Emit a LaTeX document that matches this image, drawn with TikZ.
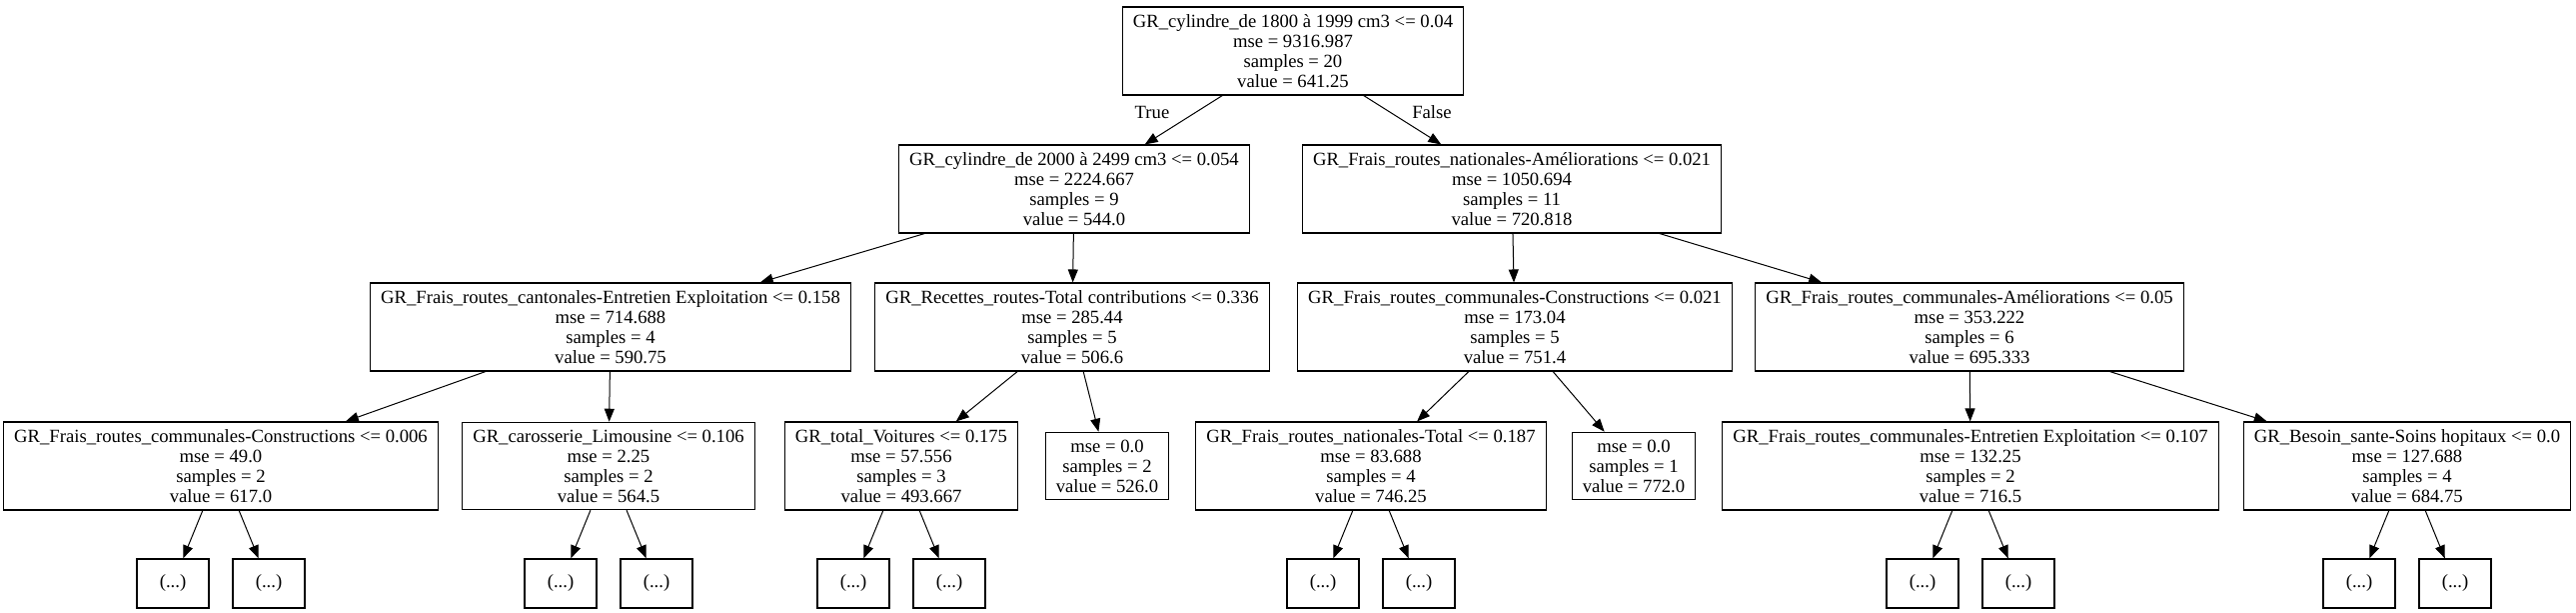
\documentclass[tikz,border=0pt]{standalone}
\usepackage{fontspec}
\setmainfont{Liberation Serif}
\usetikzlibrary{arrows.meta}

\tikzset{
  splitnode/.style={draw, rectangle, align=center, inner xsep=7.9pt, inner ysep=5.5pt, line width=0.9pt},
  dotsnode/.style={draw, rectangle, minimum width=54pt, minimum height=36.75pt, inner sep=0pt, line width=0.9pt},
  treeedge/.style={-{Triangle[length=9.75pt,width=7.5pt]}, line width=0.75pt}
}

\begin{document}
\begin{tikzpicture}[x=0.75pt, y=-0.75pt, font=\fontsize{14}{15}\selectfont]
  \useasboundingbox (0,0) rectangle (2578,613);

  % depth 0 and 1
  \node[splitnode] (root) at (1294,51) {GR\_cylindre\_de 1800 à 1999 cm3 <= 0.04\\mse = 9316.987\\samples = 20\\value = 641.25};
  \node[splitnode] (l) at (1075,189) {GR\_cylindre\_de 2000 à 2499 cm3 <= 0.054\\mse = 2224.667\\samples = 9\\value = 544.0};
  \node[splitnode] (r) at (1513,189) {GR\_Frais\_routes\_nationales-Améliorations <= 0.021\\mse = 1050.694\\samples = 11\\value = 720.818};

  % depth 2
  \node[splitnode] (ll) at (611,327) {GR\_Frais\_routes\_cantonales-Entretien Exploitation <= 0.158\\mse = 714.688\\samples = 4\\value = 590.75};
  \node[splitnode] (lr) at (1073,327) {GR\_Recettes\_routes-Total contributions <= 0.336\\mse = 285.44\\samples = 5\\value = 506.6};
  \node[splitnode] (rl) at (1516,327) {GR\_Frais\_routes\_communales-Constructions <= 0.021\\mse = 173.04\\samples = 5\\value = 751.4};
  \node[splitnode] (rr) at (1971,327) {GR\_Frais\_routes\_communales-Améliorations <= 0.05\\mse = 353.222\\samples = 6\\value = 695.333};

  % depth 3
  \node[splitnode] (lll) at (221,466) {GR\_Frais\_routes\_communales-Constructions <= 0.006\\mse = 49.0\\samples = 2\\value = 617.0};
  \node[splitnode] (llr) at (609,466) {GR\_carosserie\_Limousine <= 0.106\\mse = 2.25\\samples = 2\\value = 564.5};
  \node[splitnode] (lrl) at (902,466) {GR\_total\_Voitures <= 0.175\\mse = 57.556\\samples = 3\\value = 493.667};
  \node[splitnode] (lrr) at (1108,466) {mse = 0.0\\samples = 2\\value = 526.0};
  \node[splitnode] (rll) at (1372,466) {GR\_Frais\_routes\_nationales-Total <= 0.187\\mse = 83.688\\samples = 4\\value = 746.25};
  \node[splitnode] (rlr) at (1635,466) {mse = 0.0\\samples = 1\\value = 772.0};
  \node[splitnode] (rrl) at (1972,466) {GR\_Frais\_routes\_communales-Entretien Exploitation <= 0.107\\mse = 132.25\\samples = 2\\value = 716.5};
  \node[splitnode] (rrr) at (2409,466) {GR\_Besoin\_sante-Soins hopitaux <= 0.0\\mse = 127.688\\samples = 4\\value = 684.75};

  \node (truelbl) at (1153,112) {True};
  \node (falselbl) at (1433,112) {False};

  \foreach \a/\b in {root/l, root/r, l/ll, l/lr, r/rl, r/rr, ll/lll, ll/llr, lr/lrl, lr/lrr, rl/rll, rl/rlr, rr/rrl, rr/rrr}
    \draw[treeedge] (\a) -- (\b);

  % cut-off subtrees
  \foreach \p/\x in {lll/221, llr/609, lrl/902, rll/1372, rrl/1972, rrr/2409} {
    \node[dotsnode] (\p-a) at (\x-48,583.5) {(...)};
    \node[dotsnode] (\p-b) at (\x+48,583.5) {(...)};
    \draw[treeedge] (\p) -- (\p-a);
    \draw[treeedge] (\p) -- (\p-b);
  }
\end{tikzpicture}
\end{document}
